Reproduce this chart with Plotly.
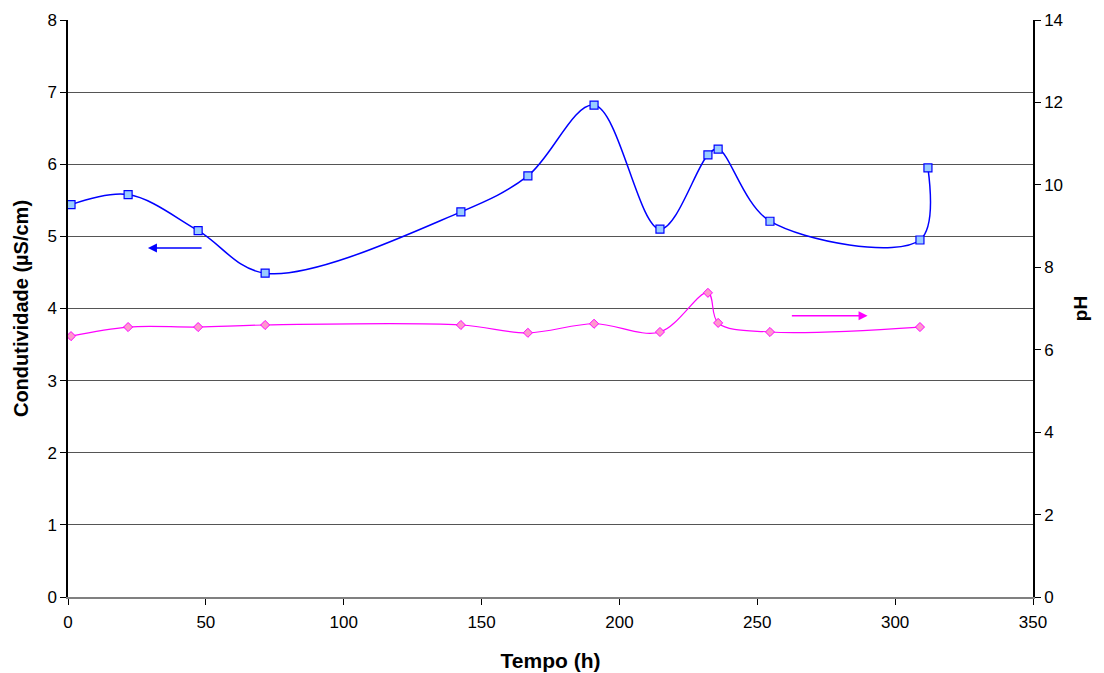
import plotly.graph_objects as go

tempo = [1.1, 21.8, 47.2, 71.5, 142.5, 166.8, 190.8, 214.7, 232.1, 235.8, 254.6, 309.0, 311.9]
condutividade = [5.44, 5.58, 5.08, 4.49, 5.34, 5.84, 6.82, 5.10, 6.13, 6.21, 5.21, 4.95, 5.95]
tempo_ph = [1.1, 21.8, 47.2, 71.5, 142.5, 166.8, 190.8, 214.7, 232.1, 235.8, 254.6, 309.0]
ph = [6.33, 6.55, 6.55, 6.60, 6.60, 6.41, 6.63, 6.43, 7.38, 6.65, 6.43, 6.55]

font = "Liberation Sans, Arial, sans-serif"

fig = go.Figure()
fig.add_trace(go.Scatter(
    x=tempo, y=condutividade, mode="lines+markers", name="Condutividade",
    line=dict(color="#0000FF", width=1.5, shape="spline", smoothing=1.0),
    marker=dict(symbol="square", size=8, color="#99CCFF", line=dict(color="#0000FF", width=1.2)),
    yaxis="y"))
fig.add_trace(go.Scatter(
    x=tempo_ph, y=ph, mode="lines+markers", name="pH",
    line=dict(color="#FF00FF", width=1.2, shape="spline", smoothing=1.0),
    marker=dict(symbol="diamond", size=7, color="#FF99CC", line=dict(color="#FF00FF", width=1)),
    yaxis="y2"))

fig.add_annotation(x=29, y=4.84, ax=49, ay=4.84, xref="x", yref="y", axref="x", ayref="y",
                   text="", showarrow=True, arrowhead=2, arrowsize=1.2, arrowwidth=1.5, arrowcolor="#0000FF")
fig.add_annotation(x=290, y=3.90, ax=262, ay=3.90, xref="x", yref="y", axref="x", ayref="y",
                   text="", showarrow=True, arrowhead=2, arrowsize=1.2, arrowwidth=1.5, arrowcolor="#FF00FF")

fig.update_layout(
    width=1096, height=665,
    margin=dict(l=60, r=71, t=12, b=76),
    paper_bgcolor="white", plot_bgcolor="white",
    showlegend=False,
    font=dict(family=font, size=17, color="black"),
    xaxis=dict(range=[0, 350], tickvals=[0, 50, 100, 150, 200, 250, 300, 350],
               showgrid=False, zeroline=False, showline=True, linecolor="#808080", linewidth=2,
               ticks="outside", ticklen=6, tickcolor="black", automargin=False,
               ticklabelstandoff=3,
               title=dict(text="<b>Tempo (h)</b>", font=dict(size=21), standoff=22)),
    yaxis=dict(range=[0, 8], tickvals=list(range(0, 9)),
               showgrid=True, gridcolor="#555555", gridwidth=1, zeroline=False,
               showline=True, linecolor="black", linewidth=1.5,
               ticks="outside", ticklen=6, tickcolor="black", automargin=False,
               title=dict(text="<b>Condutividade (µS/cm)</b>", font=dict(size=20), standoff=13)),
    yaxis2=dict(range=[0, 14], tickvals=list(range(0, 15, 2)), overlaying="y", side="right",
                showgrid=False, zeroline=False, showline=True, linecolor="black", linewidth=1.5,
                ticks="outside", ticklen=6, tickcolor="black", automargin=False,
                title=dict(text="<b>pH</b>", font=dict(size=19), standoff=12)),
)

fig.write_html("out.html")
